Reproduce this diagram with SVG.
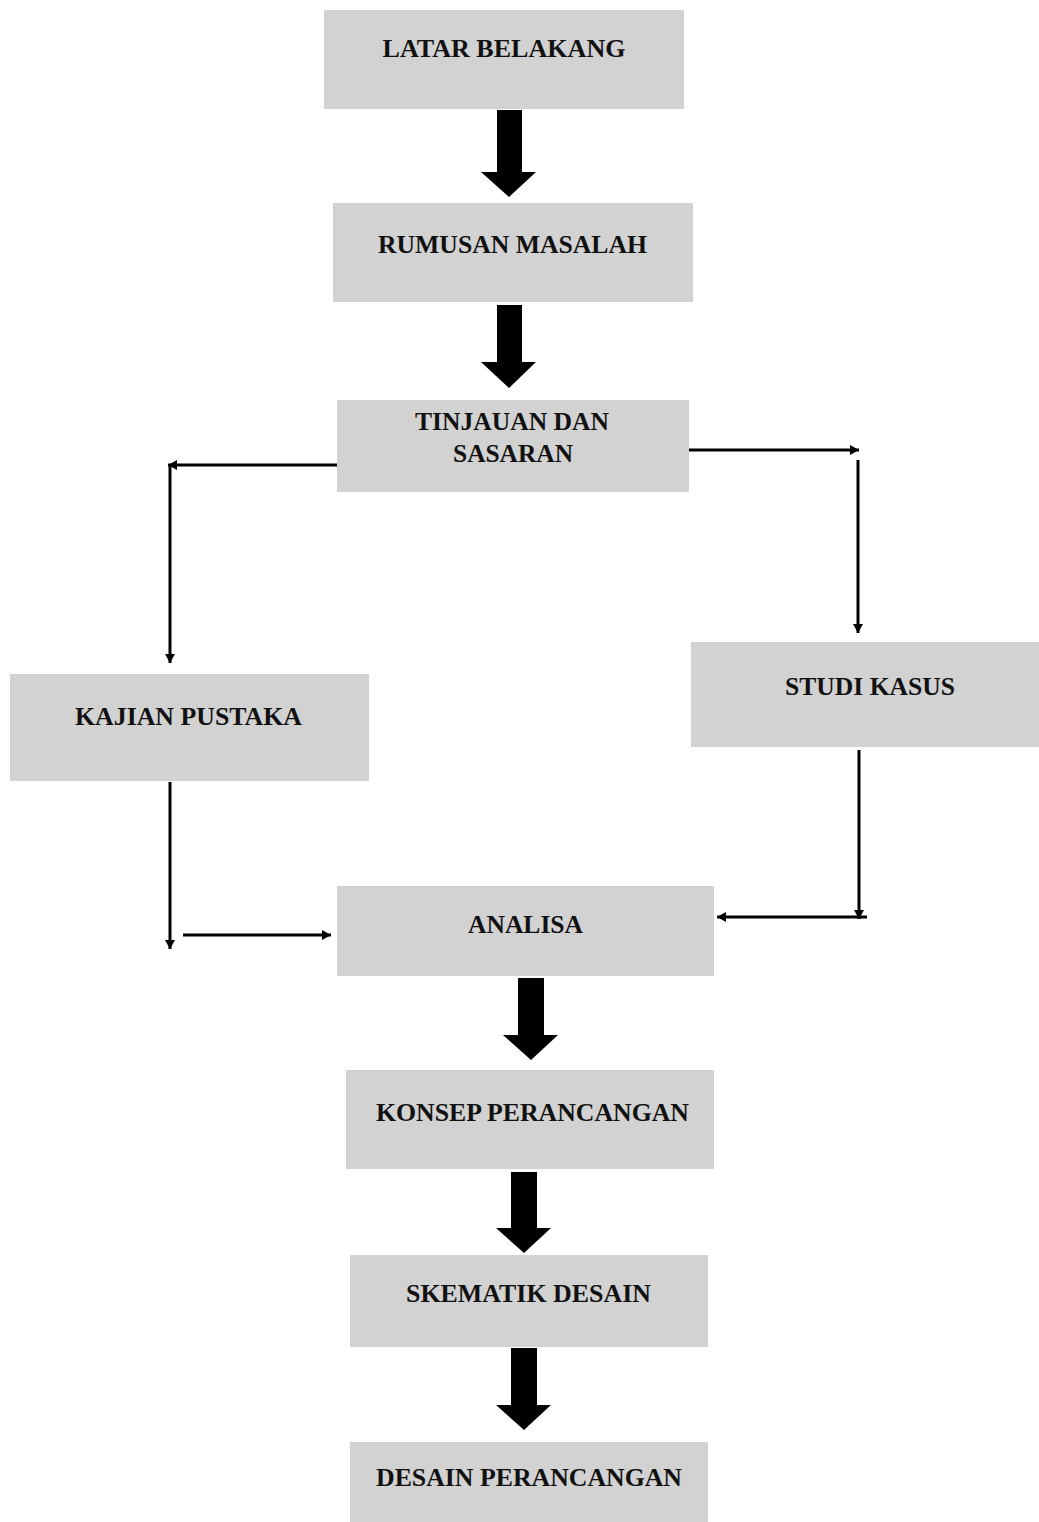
<svg xmlns="http://www.w3.org/2000/svg" width="1039" height="1522" viewBox="0 0 1039 1522">
<defs>
<style>
.box{fill:#d2d2d2}
.lbl{font-family:"Liberation Serif","Times New Roman",serif;font-weight:bold;font-size:26px;fill:#111;text-anchor:middle}
.ln{stroke:#000;stroke-width:3;fill:none;marker-end:url(#ah)}
.big{fill:#000}
</style>
<marker id="ah" viewBox="0 0 9 10" refX="9" refY="5" markerWidth="9" markerHeight="10" markerUnits="userSpaceOnUse" orient="auto">
<path d="M0,0 L9,5 L0,10 Z" fill="#000"/>
</marker>
</defs>
<rect width="1039" height="1522" fill="#fff"/>
<g id="n1"><rect class="box" x="324" y="10" width="360" height="99"/><text class="lbl" x="504" y="57" textLength="243" lengthAdjust="spacingAndGlyphs">LATAR BELAKANG</text></g>
<g id="n2"><rect class="box" x="333" y="203" width="360" height="99"/><text class="lbl" x="512.5" y="253" textLength="269" lengthAdjust="spacingAndGlyphs">RUMUSAN MASALAH</text></g>
<g id="n3"><rect class="box" x="337" y="400" width="352" height="92"/><text class="lbl" x="512" y="430" textLength="194" lengthAdjust="spacingAndGlyphs">TINJAUAN DAN</text><text class="lbl" x="513" y="462" textLength="120" lengthAdjust="spacingAndGlyphs">SASARAN</text></g>
<g id="n4"><rect class="box" x="10" y="674" width="359" height="107"/><text class="lbl" x="188.5" y="725" textLength="227" lengthAdjust="spacingAndGlyphs">KAJIAN PUSTAKA</text></g>
<g id="n5"><rect class="box" x="691" y="642" width="348" height="105"/><text class="lbl" x="870" y="695" textLength="170" lengthAdjust="spacingAndGlyphs">STUDI KASUS</text></g>
<g id="n6"><rect class="box" x="337" y="886" width="377" height="90"/><text class="lbl" x="525.5" y="933" textLength="115" lengthAdjust="spacingAndGlyphs">ANALISA</text></g>
<g id="n7"><rect class="box" x="346" y="1070" width="368" height="99"/><text class="lbl" x="532.5" y="1121" textLength="313" lengthAdjust="spacingAndGlyphs">KONSEP PERANCANGAN</text></g>
<g id="n8"><rect class="box" x="350" y="1255" width="358" height="92"/><text class="lbl" x="528.5" y="1302" textLength="245" lengthAdjust="spacingAndGlyphs">SKEMATIK DESAIN</text></g>
<g id="n9"><rect class="box" x="350" y="1442" width="358" height="80"/><text class="lbl" x="529" y="1486" textLength="306" lengthAdjust="spacingAndGlyphs">DESAIN PERANCANGAN</text></g>
<g id="connectors">
<path class="big" d="M497,110 H522 V172 H536 L509,197 L481,172 H497 Z"/>
<path class="big" d="M497,305 H522 V362 H536 L509,388 L481,362 H497 Z"/>
<path class="big" d="M518,978 H544 V1035 H558 L531,1060 L503,1035 H518 Z"/>
<path class="big" d="M511,1172 H537 V1228 H551 L524,1253 L496,1228 H511 Z"/>
<path class="big" d="M511,1348 H537 V1405 H551 L524,1430 L496,1405 H511 Z"/>
<line class="ln" x1="337" y1="465" x2="168" y2="465"/>
<line class="ln" x1="170" y1="465" x2="170" y2="663"/>
<line class="ln" x1="689" y1="450" x2="859" y2="450"/>
<line class="ln" x1="858" y1="460" x2="858" y2="633"/>
<line class="ln" x1="170" y1="782" x2="170" y2="949"/>
<line class="ln" x1="183" y1="935" x2="331" y2="935"/>
<line class="ln" x1="859" y1="750" x2="859" y2="919"/>
<line class="ln" x1="867" y1="917" x2="717" y2="917"/>
</g>
</svg>
